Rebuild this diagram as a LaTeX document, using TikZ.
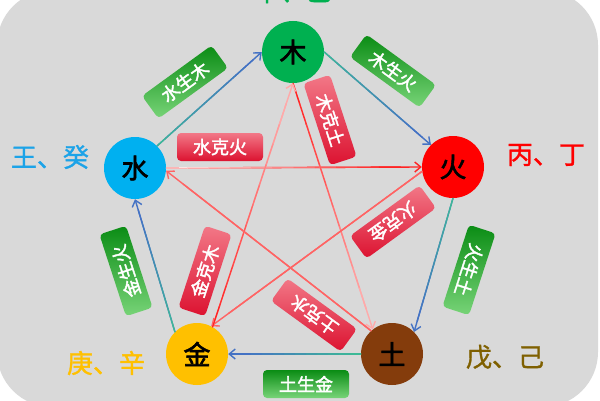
\documentclass[tikz,border=0pt]{standalone}
\usepackage{tikz}
\usetikzlibrary{arrows.meta,calc,positioning}
\usepackage{fontspec}
\newfontfamily\cjk[FakeBold=1.2]{Noto Sans CJK SC}
\newfontfamily\cjkb[FakeBold=2.2]{Noto Sans CJK SC}
\definecolor{Fond}{RGB}{217,217,217}
\definecolor{Mu}{RGB}{0,176,80}
\definecolor{Shui}{RGB}{0,176,240}
\definecolor{ShuiText}{RGB}{28,163,232}
\definecolor{Huo}{RGB}{255,0,0}
\definecolor{Jin}{RGB}{255,192,0}
\definecolor{Tu}{RGB}{132,60,12}
\definecolor{TuText}{RGB}{127,96,0}
\definecolor{ShengA}{RGB}{61,185,150}
\definecolor{ShengB}{RGB}{68,114,196}
\definecolor{KeRed}{RGB}{255,35,35}
\definecolor{KeSalmon}{RGB}{255,100,100}
\definecolor{KePink}{RGB}{255,170,170}
\definecolor{KePale}{RGB}{255,228,228}
\definecolor{GreenTop}{RGB}{10,140,20}
\definecolor{GreenBot}{RGB}{120,212,120}
\definecolor{RedTop}{RGB}{242,120,135}
\definecolor{RedBot}{RGB}{220,18,48}

% arrow whose colour runs from #3 to #4
\newcommand{\gradarrow}[4]{%
  \draw[link,#4] (#1) -- (#2);
  \foreach \k in {1,...,11}{
    \pgfmathtruncatemacro\pc{100*(\k-1)/10}
    \draw[line width=1.4pt,line cap=round,#4!\pc!#3] ($(#1)!{(\k-1)/12}!(#2)$) -- ($(#1)!{\k/12}!(#2)$);
  }}

\begin{document}
\begin{tikzpicture}[x=1pt,y=1pt,
  element/.style={circle,minimum size=62pt,inner sep=0pt,font=\cjkb\fontsize{27}{27}\selectfont},
  sheng/.style={rounded corners=4pt,minimum width=86pt,minimum height=28pt,inner sep=0pt,
    top color=GreenTop,bottom color=GreenBot,text=white,font=\cjkb\fontsize{18}{18}\selectfont},
  ke/.style={sheng,top color=RedTop,bottom color=RedBot},
  stem/.style={font=\cjk\fontsize{26}{26}\selectfont},
  link/.style={line width=1.4pt,-{Straight Barb[length=6pt,width=10pt]}}]
\useasboundingbox (0,0) rectangle (600,400);
\fill[white] (0,0) rectangle (600,400);
\fill[Fond,rounded corners=55pt] (-3,-7) rectangle (598,410);
%
% the five elements
\node[element,fill=Mu]    (wood)  at (293,348) {木};
\node[element,fill=Shui]  (water) at (135,232) {水};
\node[element,fill=Huo]   (fire)  at (453,233) {火};
\node[element,fill=Jin]   (metal) at (197,46)  {金};
\node[element,fill=Tu]    (earth) at (392,46)  {土};
%
\node[stem,text=Mu]       (jiayi)   at (293,408) {甲、乙};
\node[stem,text=ShuiText] (rengui)  at (50,243)  {王、癸};
\node[stem,text=Huo]      (bingding) at (546,245) {丙、丁};
\node[stem,text=Jin]      (gengxin) at (106,37)  {庚、辛};
\node[stem,text=TuText]   (wuji)    at (505,43)  {戊、己};
%
% generating cycle
\gradarrow{water.45}{wood.west}{ShengA}{ShengB}
\gradarrow{wood.east}{fire.135}{ShengA}{ShengB}
\gradarrow{fire.south}{earth.45}{ShengA}{ShengB}
\gradarrow{earth.west}{metal.east}{ShengA}{ShengB}
\gradarrow{metal.135}{water.south}{ShengA}{ShengB}
%
% overcoming cycle
\gradarrow{water.east}{fire.west}{KePale}{KeRed}
\gradarrow{wood.south}{earth.128}{KeRed}{KePink}
\gradarrow{earth.132}{water.355}{KeSalmon}{KeSalmon}
\gradarrow{fire.188}{metal.63}{KeSalmon}{KeSalmon}
\gradarrow{metal.60}{wood.south}{KeRed}{KePink}
%
\node[sheng,rotate=36]   (shuimu) at (185,318) {水生木};
\node[sheng,rotate=-36]  (muhuo)  at (393,329) {木生火};
\node[sheng,rotate=-108] (huotu)  at (469,130) {火生土};
\node[sheng]             (tujin)  at (306,16)  {土生金};
\node[sheng,rotate=108]  (jinshui) at (126,129) {金生火};
%
\node[ke]                (kehuo) at (220,253) {水克火};
\node[ke,rotate=-72]     (ketu)  at (330,280) {木克土};
\node[ke,rotate=-144]    (kejin) at (393,178) {火克金};
\node[ke,rotate=144]     (keshui) at (314,85) {土克水};
\node[ke,rotate=72]      (kemu)  at (205,129) {金克木};
\end{tikzpicture}
\end{document}
